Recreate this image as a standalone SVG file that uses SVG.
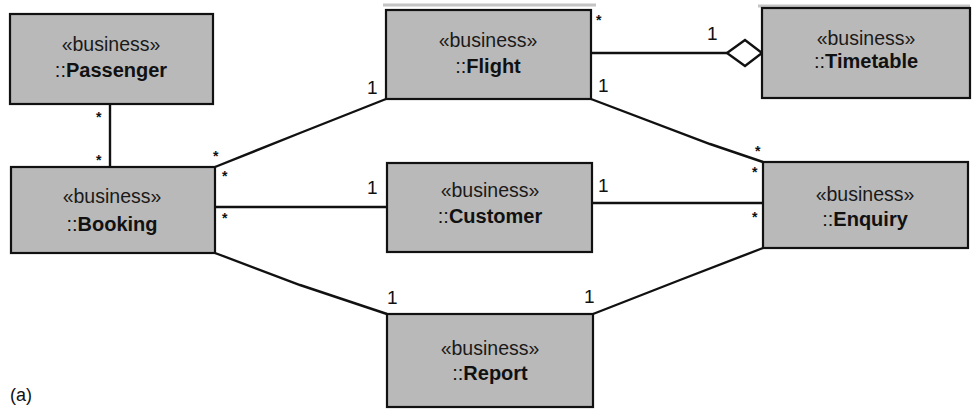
<svg xmlns="http://www.w3.org/2000/svg" width="972" height="409" viewBox="0 0 972 409">
<style>
.box{fill:#b9b9b9;stroke:#111;stroke-width:2.2}
.st{font-family:"Liberation Sans",Arial,sans-serif;font-size:19.5px;fill:#1a1a1a;text-anchor:middle}
.nm{font-family:"Liberation Sans",Arial,sans-serif;font-size:20px;font-weight:bold;fill:#111;text-anchor:middle}
.nm tspan.c{font-weight:normal}
.ln{fill:none;stroke:#111;stroke-width:2.4}
.m{font-family:"Liberation Sans",Arial,sans-serif;font-size:19px;fill:#111}
.s{font-family:"Liberation Sans",Arial,sans-serif;font-size:14px;font-weight:bold;fill:#111}
.edge{stroke:#c4c4c4;stroke-width:3}
</style>
<rect width="972" height="409" fill="#fff"/>
<line class="edge" x1="383" y1="5" x2="596" y2="5"/>
<line class="edge" x1="758" y1="6" x2="970" y2="6"/>
<g id="connectors">
<line class="ln" x1="110" y1="104" x2="110" y2="167"/>
<polyline class="ln" points="215,167 300,133 386,99"/>
<line class="ln" x1="215" y1="207" x2="387" y2="207"/>
<line class="ln" x1="592" y1="203" x2="763" y2="203"/>
<polyline class="ln" points="591,99 710,144 763,162"/>
<polyline class="ln" points="215,253 300,285 387,314"/>
<polyline class="ln" points="593,314 680,280 763,248"/>
<line class="ln" x1="591" y1="53" x2="727" y2="53"/>
<polygon points="727,53 745,40 762,53 745,66" fill="#fff" stroke="#111" stroke-width="2.4"/>
<text class="s" x="96" y="122">*</text>
<text class="s" x="96" y="165">*</text>
<text class="s" x="213" y="161">*</text>
<text class="s" x="222" y="181">*</text>
<text class="m" x="367" y="94">1</text>
<text class="s" x="222" y="223">*</text>
<text class="m" x="367" y="194">1</text>
<text class="m" x="598" y="192">1</text>
<text class="s" x="752" y="177">*</text>
<text class="s" x="752" y="222">*</text>
<text class="s" x="596" y="25">*</text>
<text class="m" x="598" y="92">1</text>
<text class="s" x="755" y="156">*</text>
<text class="m" x="707" y="40">1</text>
<text class="m" x="387" y="304">1</text>
<text class="m" x="584" y="303">1</text>
</g>
<g id="passenger">
<rect class="box" x="10" y="14" width="203" height="90"/>
<text class="st" x="111" y="51">«business»</text>
<text class="nm" x="111" y="77"><tspan class="c">::</tspan>Passenger</text>
</g>
<g id="flight">
<rect class="box" x="386" y="10" width="205" height="89"/>
<text class="st" x="488" y="47">«business»</text>
<text class="nm" x="488" y="73"><tspan class="c">::</tspan>Flight</text>
</g>
<g id="timetable">
<rect class="box" x="762" y="8" width="208" height="90"/>
<text class="st" x="866" y="45">«business»</text>
<text class="nm" x="866" y="68"><tspan class="c">::</tspan>Timetable</text>
</g>
<g id="booking">
<rect class="box" x="11" y="167" width="204" height="86"/>
<text class="st" x="112" y="203">«business»</text>
<text class="nm" x="112" y="231"><tspan class="c">::</tspan>Booking</text>
</g>
<g id="customer">
<rect class="box" x="387" y="163" width="205" height="89"/>
<text class="st" x="490" y="197">«business»</text>
<text class="nm" x="490" y="223"><tspan class="c">::</tspan>Customer</text>
</g>
<g id="enquiry">
<rect class="box" x="763" y="162" width="205" height="86"/>
<text class="st" x="865" y="201">«business»</text>
<text class="nm" x="865" y="226"><tspan class="c">::</tspan>Enquiry</text>
</g>
<g id="report">
<rect class="box" x="387" y="314" width="206" height="93"/>
<text class="st" x="490" y="355">«business»</text>
<text class="nm" x="490" y="380"><tspan class="c">::</tspan>Report</text>
</g>
<text x="10" y="401" font-family="Liberation Sans,Arial,sans-serif" font-size="18" fill="#111">(a)</text>
</svg>
